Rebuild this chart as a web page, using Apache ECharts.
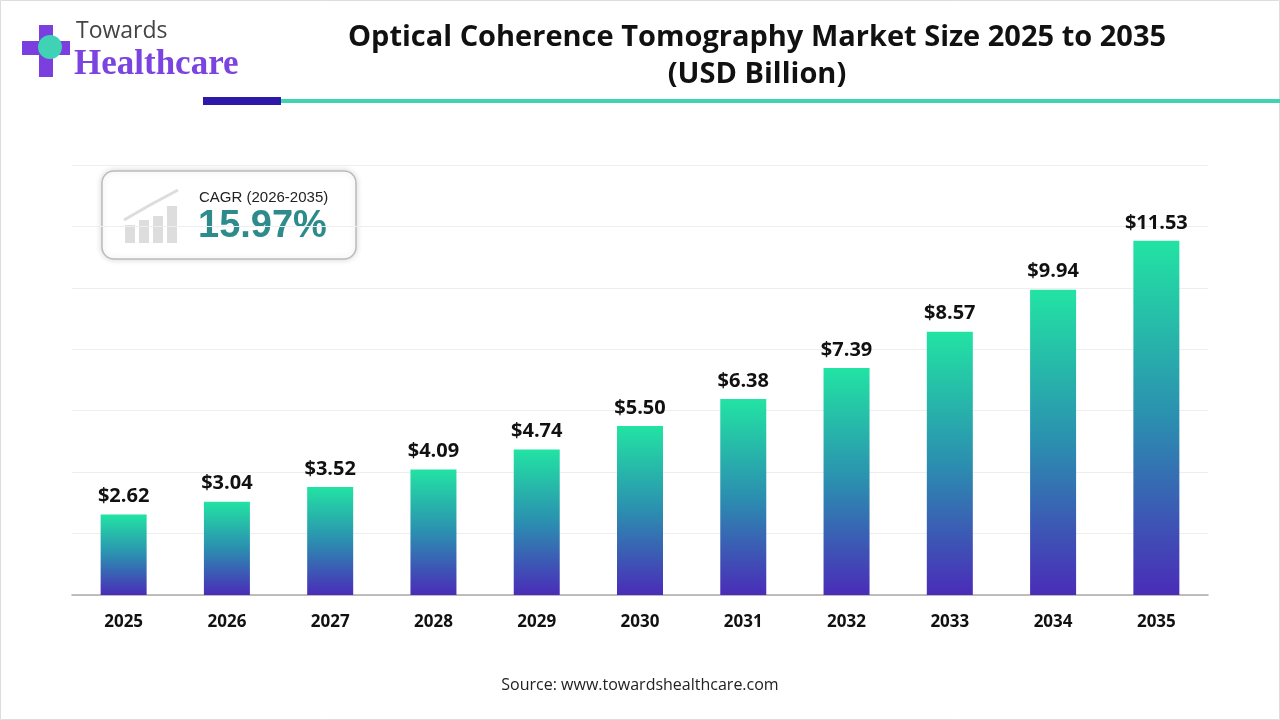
<!DOCTYPE html>
<html><head><meta charset="utf-8">
<script src="https://cdn.jsdelivr.net/npm/echarts@6/dist/echarts.min.js"></script>
<style>html,body{margin:0;padding:0;background:#fff}#c{width:1280px;height:720px}</style>
</head><body><div id="c"></div>
<script>
const categories = ['2025','2026','2027','2028','2029','2030','2031','2032','2033','2034','2035'];
const values = [2.62,3.04,3.52,4.09,4.74,5.50,6.38,7.39,8.57,9.94,11.53];
const chart = echarts.init(document.getElementById('c'));
chart.setOption({
  backgroundColor:'#fff',
  title:{text:'Optical Coherence Tomography Market Size 2025 to 2035\n(USD Billion)',left:752,top:14,textAlign:'center',
    textStyle:{fontFamily:'Open Sans',fontWeight:'bold',fontSize:29,lineHeight:37,color:'#111'}},
  grid:{left:72,right:72,top:165,bottom:125},
  xAxis:{type:'category',data:categories,axisTick:{show:false},
    axisLine:{lineStyle:{color:'#aaa',width:1.5}},
    axisLabel:{fontFamily:'Open Sans',fontWeight:'bold',fontSize:17,color:'#111',margin:19}},
  yAxis:{type:'value',min:0,max:14,interval:2,axisLabel:{show:false},
    splitLine:{lineStyle:{color:'#eee'}}},
  series:[{type:'bar',data:values,barWidth:46,
    itemStyle:{color:new echarts.graphic.LinearGradient(0,0,0,1,[{offset:0,color:'#22e3a3'},{offset:0.5,color:'#2b8fb0'},{offset:1,color:'#4a2cb8'}])},
    label:{show:true,position:'top',distance:8,formatter:p=>'$'+p.value.toFixed(2),
      fontFamily:'Open Sans',fontWeight:'bold',fontSize:20,color:'#111'}}],
  graphic:[
    {type:'rect',shape:{x:0.5,y:0.5,width:1279,height:719},style:{fill:'none',stroke:'#ddd'}},
    {type:'rect',shape:{x:203,y:97,width:78,height:8},style:{fill:'#2e1aa8'}},
    {type:'rect',shape:{x:281,y:99,width:999,height:4},style:{fill:'#3dd4b0'}},
    {type:'rect',shape:{x:22,y:41,width:48,height:14},style:{fill:'#7b3fe0'}},
    {type:'rect',shape:{x:39,y:25,width:14,height:52},style:{fill:'#7b3fe0'}},
    {type:'circle',shape:{cx:50,cy:47,r:12},style:{fill:'#3fd2b4'}},
    {type:'text',left:76,top:20,style:{text:'Towards',font:'23px Open Sans',fill:'#444'}},
    {type:'text',left:74,top:47,style:{text:'Healthcare',font:'bold 35px Liberation Serif',fill:'#7b44e0'}},
    {type:'rect',shape:{x:102,y:171,width:254,height:88,r:12},style:{fill:'#fff',stroke:'#bbb',lineWidth:1.5,shadowColor:'rgba(0,0,0,0.15)',shadowBlur:6}},
    {type:'rect',shape:{x:125,y:225,width:10,height:18},style:{fill:'#ddd'}},
    {type:'rect',shape:{x:139,y:220,width:10,height:23},style:{fill:'#ddd'}},
    {type:'rect',shape:{x:153,y:216,width:10,height:27},style:{fill:'#ddd'}},
    {type:'rect',shape:{x:167,y:206,width:10,height:37},style:{fill:'#ddd'}},
    {type:'polyline',shape:{points:[[124,220],[150,205],[178,190]]},style:{stroke:'#ddd',lineWidth:3,fill:'none'}},
    {type:'text',left:199,top:190,style:{text:'CAGR (2026-2035)',font:'15px Liberation Sans',fill:'#222'}},
    {type:'text',left:198,top:208,style:{text:'15.97%',font:'bold 38px Liberation Sans',fill:'#2e8b8b'}},
    {type:'text',x:640,y:677,style:{text:'Source: www.towardshealthcare.com',font:'16px Open Sans',fill:'#222',textAlign:'center'}}
  ]
});
</script></body></html>
